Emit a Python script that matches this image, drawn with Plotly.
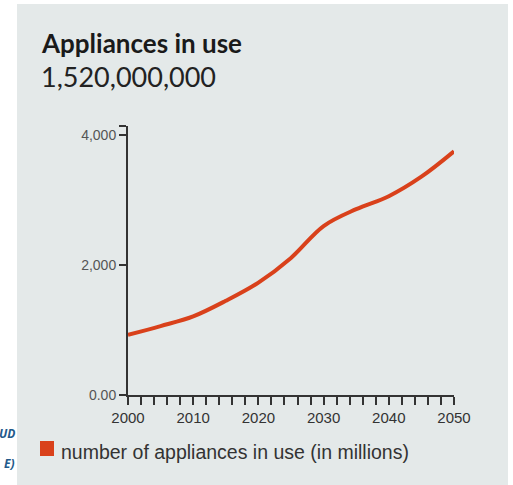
import plotly.graph_objects as go

# ---- data ----
years = [2000, 2005, 2010, 2015, 2020, 2025, 2030, 2035, 2040, 2045, 2050]
appliances = [925, 1060, 1210, 1450, 1730, 2110, 2600, 2860, 3060, 3360, 3750]
y_tick_vals = [0, 2000, 4000]
y_tick_text = ["0.00", "2,000", "4,000"]
x_label_years = [2000, 2010, 2020, 2030, 2040, 2050]

title_text = "Appliances in use"
subtitle_text = "1,520,000,000"
legend_text = "number of appliances in use (in millions)"

W, H = 513, 485
L, R, T, B = 128, 454, 126, 395
LINE_COLOR = "#d9411b"
BG = "#e4e9e9"


def px(x):
    return (x - L) / (R - L)


def py(y):
    return (B - y) / (B - T)


x_tickvals = list(range(2000, 2051, 2))
x_ticktext = [str(v) if v in x_label_years else "" for v in x_tickvals]
y_max = 4140

fig = go.Figure()
fig.add_trace(go.Scatter(
    x=years, y=appliances, mode="lines",
    line=dict(color=LINE_COLOR, width=4, shape="spline", smoothing=1.0),
    showlegend=False, hoverinfo="skip",
))

fig.update_layout(
    width=W, height=H,
    margin=dict(l=L, r=W - R, t=T, b=H - B, pad=0),
    paper_bgcolor=BG, plot_bgcolor=BG,
    showlegend=False,
    xaxis=dict(
        range=[2000, 2050], showgrid=False, zeroline=False,
        showline=True, linecolor="#333", linewidth=2,
        tickmode="array", tickvals=x_tickvals, ticktext=x_ticktext,
        ticks="outside", ticklen=8, tickwidth=2, tickcolor="#333",
        tickfont=dict(family="Liberation Sans, Arial", size=15, color="#333"),
        fixedrange=True,
    ),
    yaxis=dict(
        range=[0, y_max], showgrid=False, zeroline=False,
        showline=True, linecolor="#333", linewidth=2,
        tickmode="array", tickvals=y_tick_vals + [y_max], ticktext=y_tick_text + [""],
        ticks="outside", ticklen=7, tickwidth=2, tickcolor="#333",
        tickfont=dict(family="Liberation Sans, Arial", size=14, color="#555"),
        fixedrange=True,
    ),
)

shapes = [
    # white strips around the grey panel
    dict(type="rect", xref="paper", yref="paper", x0=px(0), x1=px(17), y0=py(H), y1=py(0),
         fillcolor="white", line=dict(width=0), layer="above"),
    dict(type="rect", xref="paper", yref="paper", x0=px(0), x1=px(W), y0=py(4), y1=py(0),
         fillcolor="white", line=dict(width=0), layer="above"),
    dict(type="rect", xref="paper", yref="paper", x0=px(508), x1=px(W), y0=py(H), y1=py(0),
         fillcolor="white", line=dict(width=0), layer="above"),
    # legend swatch
    dict(type="rect", xref="paper", yref="paper", x0=px(40), x1=px(54), y0=py(456), y1=py(441),
         fillcolor=LINE_COLOR, line=dict(width=0), layer="above"),
]
fig.update_layout(shapes=shapes)

annotations = [
    dict(text="<b>" + title_text + "</b>", x=px(39), y=py(43), xref="paper", yref="paper",
         xanchor="left", yanchor="middle", showarrow=False,
         font=dict(family="Lato", size=26, color="#1a1a1a")),
    dict(text=subtitle_text, x=px(39), y=py(76), xref="paper", yref="paper",
         xanchor="left", yanchor="middle", showarrow=False,
         font=dict(family="Lato", size=27, color="#222")),
    dict(text=legend_text, x=px(59), y=py(452), xref="paper", yref="paper",
         xanchor="left", yanchor="middle", showarrow=False,
         font=dict(family="Liberation Sans, Arial", size=19.5, color="#333")),
    dict(text="<b><i>UD</i></b>", x=px(17), y=py(433), xref="paper", yref="paper",
         xanchor="right", yanchor="middle", showarrow=False,
         font=dict(family="Open Sans", size=12, color="#22598a")),
    dict(text="<b><i>E)</i></b>", x=px(17), y=py(463), xref="paper", yref="paper",
         xanchor="right", yanchor="middle", showarrow=False,
         font=dict(family="Open Sans", size=12, color="#22598a")),
]
fig.update_layout(annotations=annotations)

fig.write_html("out.html")
